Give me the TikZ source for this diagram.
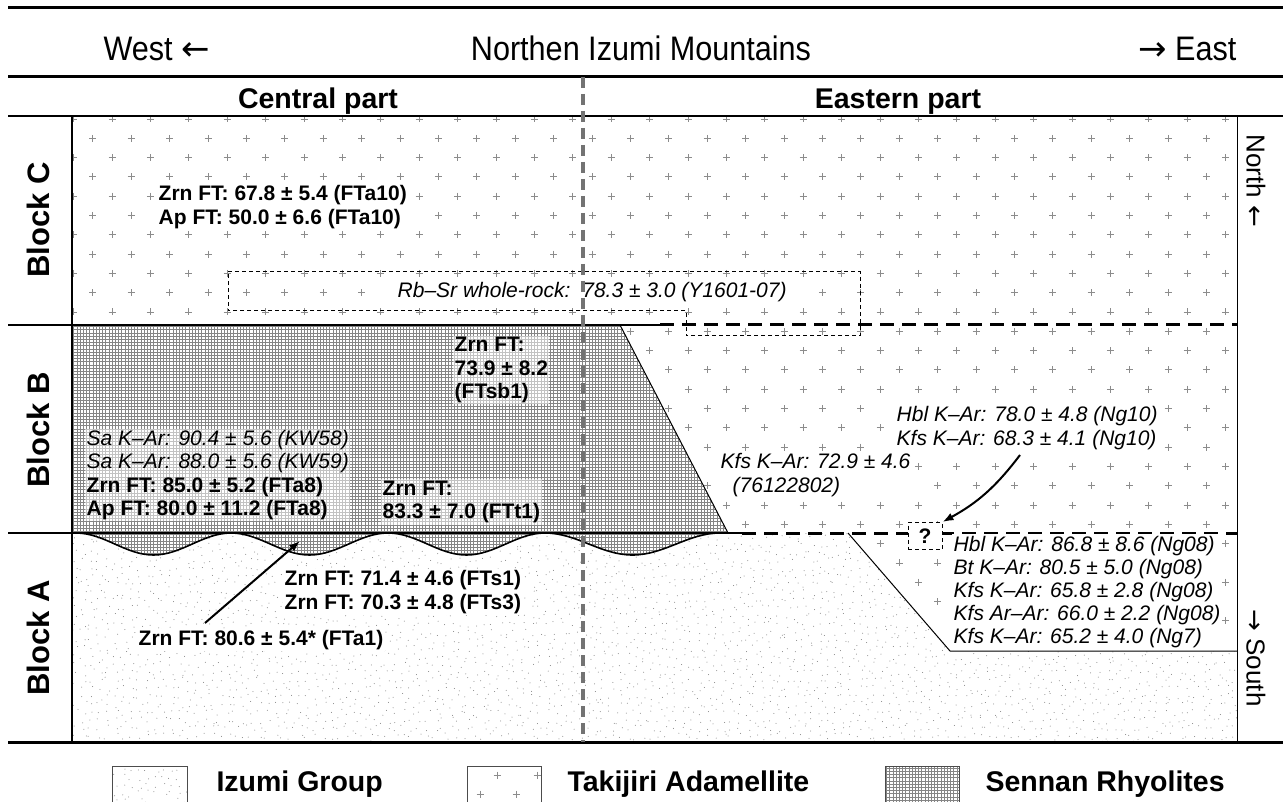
\documentclass[tikz,border=0pt]{standalone}
\usepackage{fontspec}
\setmainfont{Liberation Sans}
\newfontfamily\narrowfam{Liberation Sans}[FakeStretch=0.9]
\newfontfamily\arrfam{DejaVu Sans}
\usetikzlibrary{arrows.meta}
\newcommand\datf{\fontsize{21}{23.2}\selectfont}
\newcommand\hdrf{\fontsize{28.5}{31}\selectfont\bfseries}
\newcommand\ttlf{\narrowfam\fontsize{34}{36}\selectfont}
\newcommand\blkf{\fontsize{31}{33}\selectfont\bfseries}
\newcommand\dirf{\fontsize{26}{28}\selectfont}
\newcommand\larr{{\arrfam ←}}
\newcommand\rarr{{\arrfam →}}
\newcommand\plusfield[4]{%
  \foreach \k in {#1,...,#2}{%
    \pgfmathsetmacro\yy{119+19.3*\k}%
    \pgfmathsetmacro\xo{isodd(\k)?92.8:112}%
    \foreach \m in {#3,...,#4}{%
      \pgfmathsetmacro\xx{\xo+38.4*\m}%
      \draw[plusc] (\xx-3.5,\yy) -- (\xx+3.5,\yy) (\xx,\yy-3.5) -- (\xx,\yy+3.5);
    }}}
\begin{document}
\begin{tikzpicture}[x=1pt,y=-1pt,
  plusc/.style={draw=black!45, line width=0.8pt},
  dotc/.style={fill=black!50},
  gridc/.style={draw=black!48, line width=0.55pt},
  lab/.style={font=\datf, inner sep=1.5pt, align=left, anchor=west},
  wb/.style={fill=white},
  hb/.style={fill=white, fill opacity=0.5, text opacity=1},
  heavy/.style={line width=3pt},
  medline/.style={line width=2.2pt},
  bdash/.style={line width=3pt, dash pattern=on 14pt off 8pt},
  thindash/.style={line width=1pt, dash pattern=on 4pt off 3pt},
  graydash/.style={line width=3.5pt, draw=black!55, dash pattern=on 11pt off 6pt},
  legbox/.style={draw=black!70, line width=1pt},
  arr/.style={line width=2pt, -{Latex[length=11pt,width=8pt]}}]
\useasboundingbox (0,0) rectangle (1283,802);
\fill[white] (0,0) rectangle (1283,802);

% ---- Block C: Takijiri
\begin{scope}
\clip (72,116) rectangle (1237,325);
\plusfield{0}{11}{-1}{29}
\end{scope}
% ---- Block B east + Block A east: Takijiri
\begin{scope}
\clip (620,325) -- (1237,325) -- (1237,651) -- (950,651) -- (848,533) -- (728,533) -- cycle;
\plusfield{10}{28}{12}{30}
\end{scope}
% ---- Block A: Izumi Group
\begin{scope}
\clip (72,533) -- (848,533) -- (950,651) -- (1237,651) -- (1237,742) -- (72,742) -- cycle;
\pgfmathsetseed{11}
\foreach \x in {72,80,...,1232} \foreach \y in {533,541,...,741} {\fill[dotc] (\x+7*rnd,\y+7*rnd) circle[radius=0.5pt];}
\end{scope}
% ---- Sennan Rhyolites
\begin{scope}
\clip (72,325) -- (72,533) -- (76,533)
 .. controls (104.2,533) and (125.3,555) .. (153.5,555) .. controls (181.7,555) and (202.8,533) .. (231,533)
 .. controls (259.6,533) and (280.9,555) .. (309.5,555) .. controls (338.1,555) and (359.4,533) .. (388,533)
 .. controls (416.6,533) and (437.9,555) .. (466.5,555) .. controls (495.1,555) and (516.4,533) .. (545,533)
 .. controls (576.9,533) and (600.6,555) .. (632.5,555) .. controls (664.4,555) and (688.1,533) .. (720,533)
 -- (728,533) -- (620,325) -- cycle;
\fill[white] (60,320) rectangle (745,565);
\draw[gridc, step=3.2pt] (72,325) grid (745,565);
\end{scope}
\draw[line width=1.6pt] (76,533)
 .. controls (104.2,533) and (125.3,555) .. (153.5,555) .. controls (181.7,555) and (202.8,533) .. (231,533)
 .. controls (259.6,533) and (280.9,555) .. (309.5,555) .. controls (338.1,555) and (359.4,533) .. (388,533)
 .. controls (416.6,533) and (437.9,555) .. (466.5,555) .. controls (495.1,555) and (516.4,533) .. (545,533)
 .. controls (576.9,533) and (600.6,555) .. (632.5,555) .. controls (664.4,555) and (688.1,533) .. (720,533);
\draw[line width=1pt] (620,325) -- (728,533);
\draw[line width=1pt] (848,533) -- (950,651) -- (1237,651);

% ---- frame lines
\draw[heavy] (8,8) -- (1283,8);
\draw[heavy] (8,77) -- (1283,77);
\draw[medline] (8,116) -- (1283,116);
\draw[heavy] (8,742) -- (1283,742);
\draw[medline] (72,116) -- (72,742);
\draw[line width=1pt] (1237,116) -- (1237,742);
\draw[medline] (8,325) -- (660,325);
\draw[bdash] (660,325) -- (1237,325);
\draw[medline] (8,533) -- (742,533);
\draw[bdash] (742,533) -- (1237,533);

% ---- header texts
\node[font=\ttlf, anchor=base west] (west) at (100,61) {West \larr};
\node[font=\ttlf, anchor=base] (title) at (641,61) {Northen Izumi Mountains};
\node[font=\ttlf, anchor=base east] (east) at (1240,61) {\rarr\ East};
\node[font=\hdrf, anchor=base] (cp) at (318,109) {Central part};
\node[font=\hdrf, anchor=base] (ep) at (898,109) {Eastern part};
\node[font=\blkf, rotate=90] (blc) at (38,220) {Block C};
\node[font=\blkf, rotate=90] (blb) at (38,430) {Block B};
\node[font=\blkf, rotate=90] (bla) at (38,638) {Block A};
\node[font=\dirf, rotate=-90] (north) at (1256,181) {North \larr};
\node[font=\dirf, rotate=-90] (south) at (1256,658) {\rarr\ South};

% ---- Rb-Sr dashed outline
\draw[thindash] (228,272) -- (860,272) -- (860,336) -- (686,336) -- (686,311) -- (228,311) -- cycle;

% ---- data labels
\node[lab, wb, font=\datf\bfseries] (c1) at (157,207) {Zrn FT: 67.8 ± 5.4 (FTa10)\\Ap FT: 50.0 ± 6.6 (FTa10)};
\node[lab, wb, font=\datf\itshape] (rbsr) at (396,292) {Rb–Sr whole-rock:\hspace{12pt}78.3 ± 3.0 (Y1601-07)};
\node[lab, hb, font=\datf\bfseries] (b1) at (453,370) {Zrn FT:\\73.9 ± 8.2\\(FTsb1)};
\node[lab, hb] (b2) at (85,475) {\textit{Sa K–Ar: 90.4 ± 5.6 (KW58)}\\\textit{Sa K–Ar: 88.0 ± 5.6 (KW59)}\\\textbf{Zrn FT: 85.0 ± 5.2 (FTa8)}\\\textbf{Ap FT: 80.0 ± 11.2 (FTa8)}};
\node[lab, hb, font=\datf\bfseries] (b3) at (381,502) {Zrn FT:\\83.3 ± 7.0 (FTt1)};
\node[lab, wb, font=\datf\itshape] (b4) at (719,475) {Kfs K–Ar: 72.9 ± 4.6\\\hspace*{12pt}(76122802)};
\node[lab, wb, font=\datf\itshape] (b5) at (895,428) {Hbl K–Ar: 78.0 ± 4.8 (Ng10)\\Kfs K–Ar: 68.3 ± 4.1 (Ng10)};
\node[lab, wb, font=\datf\bfseries] (a1) at (283,592) {Zrn FT: 71.4 ± 4.6 (FTs1)\\Zrn FT: 70.3 ± 4.8 (FTs3)};
\node[lab, wb, font=\datf\bfseries] (a2) at (137,640) {Zrn FT: 80.6 ± 5.4* (FTa1)};
\node[lab, wb, font=\datf\itshape] (a3) at (952,592) {Hbl K–Ar: 86.8 ± 8.6 (Ng08)\\Bt K–Ar: 80.5 ± 5.0 (Ng08)\\Kfs K–Ar: 65.8 ± 2.8 (Ng08)\\Kfs Ar–Ar: 66.0 ± 2.2 (Ng08)\\Kfs K–Ar: 65.2 ± 4.0 (Ng7)};
\node[draw, thindash, fill=white, minimum width=34pt, minimum height=27pt, inner sep=0pt, font=\fontsize{21}{21}\selectfont\bfseries] (q) at (925,536) {?};

% ---- gray divider
\draw[graydash] (583,77) -- (583,742);

% ---- arrows
\coordinate (a2s) at (205,623);
\coordinate (a2e) at (300,541);
\draw[arr] (a2s) -- (a2e);
\coordinate (b5s) at (1020,455);
\draw[arr] (b5s) to[bend left=12] (q.north east);

% ---- legend
\begin{scope}
\clip (112,766) rectangle (187,802);
\pgfmathsetseed{5}
\foreach \x in {112,120,...,187} \foreach \y in {766,774,...,802} {\fill[dotc] (\x+7*rnd,\y+7*rnd) circle[radius=0.5pt];}
\end{scope}
\begin{scope}
\clip (885,766) rectangle (959,802);
\draw[gridc, step=3.2pt] (880,766) grid (960,805);
\end{scope}
\foreach \px/\py in {497/775, 537/775, 480/794, 516/794}
  {\draw[plusc] (\px-3.5,\py) -- (\px+3.5,\py) (\px,\py-3.5) -- (\px,\py+3.5);}
\draw[legbox] (112,806) -- (112,766) -- (187,766) -- (187,806);
\draw[legbox] (467,806) -- (467,766) -- (541,766) -- (541,806);
\draw[legbox] (885,806) -- (885,766) -- (959,766) -- (959,806);
\node[font=\hdrf, anchor=west] (lg1) at (213,784) {Izumi Group};
\node[font=\hdrf, anchor=west] (lg2) at (564,784) {Takijiri Adamellite};
\node[font=\hdrf, anchor=west] (lg3) at (982,784) {Sennan Rhyolites};
\end{tikzpicture}
\end{document}
